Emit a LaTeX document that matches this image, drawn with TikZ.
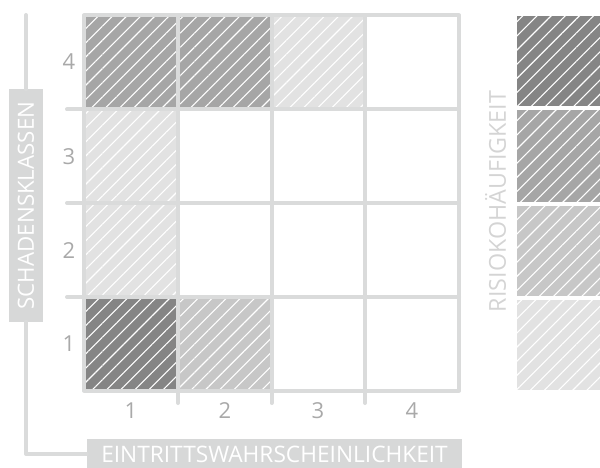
\documentclass[tikz,border=0pt]{standalone}
\usepackage{fontspec}
\setmainfont{Open Sans}
\usetikzlibrary{patterns.meta}
\definecolor{gridc}{HTML}{DADBDB}
\definecolor{cA}{HTML}{858585}
\definecolor{cB}{HTML}{A6A6A6}
\definecolor{cC}{HTML}{C7C7C7}
\definecolor{cD}{HTML}{E2E2E2}
\definecolor{numc}{HTML}{A9A9A9}
\definecolor{labbox}{HTML}{D7D8D8}
\definecolor{riskc}{HTML}{D4D4D4}
\begin{document}
\begin{tikzpicture}[x=1pt,y=-1pt,
  hatch/.style={preaction={fill=#1}, pattern={Lines[angle=45,distance=10pt,line width=1.1pt]}, pattern color=white},
  gridline/.style={draw=gridc, line width=4pt, line cap=round, line join=round},
  axline/.style={draw=gridc, line width=4pt, line cap=round, line join=round},
  num/.style={text=numc, font=\fontsize{22}{22}\selectfont, inner sep=0pt},
  axlab/.style={fill=labbox, text=white, inner sep=0pt}]
\useasboundingbox (0,0) rectangle (600,468);
% cells
\path[hatch=cB] (84,15.5) rectangle (178,109.5);
\path[hatch=cB] (178,15.5) rectangle (271.5,109.5);
\path[hatch=cD] (271.5,15.5) rectangle (365,109.5);
\path[hatch=cD] (84,109.5) rectangle (178,203);
\path[hatch=cD] (84,203) rectangle (178,297);
\path[hatch=cA] (84,297) rectangle (178,390.5);
\path[hatch=cC] (178,297) rectangle (271.5,390.5);
% grid lines
\draw[gridline] (67,109.5) -- (459,109.5);
\draw[gridline] (67,203) -- (459,203);
\draw[gridline] (67,297) -- (459,297);
\draw[gridline] (178,15.5) -- (178,403);
\draw[gridline] (271.5,15.5) -- (271.5,403);
\draw[gridline] (365,15.5) -- (365,403);
\draw[gridline] (84,15.5) rectangle (459,390.5);
% row numbers
\node[num] (r4) at (69,61.5) {4};
\node[num] (r3) at (69,156.5) {3};
\node[num] (r2) at (69,250.5) {2};
\node[num] (r1) at (69,343.5) {1};
% column numbers
\node[num] (c1) at (131,410.5) {1};
\node[num] (c2) at (225,410.5) {2};
\node[num] (c3) at (318,410.5) {3};
\node[num] (c4) at (412,410.5) {4};
% legend
\path[hatch=cA] (517,16) rectangle (600,106.5);
\path[hatch=cB] (517,110.5) rectangle (600,201.5);
\path[hatch=cC] (517,205.5) rectangle (600,295.5);
\path[hatch=cD] (517,299.5) rectangle (600,390);
\node[text=riskc, font=\fontsize{23.3}{23.3}\selectfont, rotate=90, inner sep=0pt] (risk) at (495.5,201.5) {RISIOKOHÄUFIGKEIT};
% axis labels
\node[axlab, font=\fontsize{22.3}{22.3}\selectfont, rotate=90, minimum width=232pt, minimum height=34pt] (ylab) at (26,205.5) {SCHADENSKLASSEN};
\node[axlab, font=\fontsize{22.7}{22.7}\selectfont, minimum width=375pt, minimum height=30pt] (xlab) at (274.5,454) {EINTRITTSWAHRSCHEINLICHKEIT};
\coordinate (ytop) at (26,15);
\draw[axline] (ytop) -- (ylab.east);
\draw[axline] (ylab.west) |- (xlab.west);
\end{tikzpicture}
\end{document}
